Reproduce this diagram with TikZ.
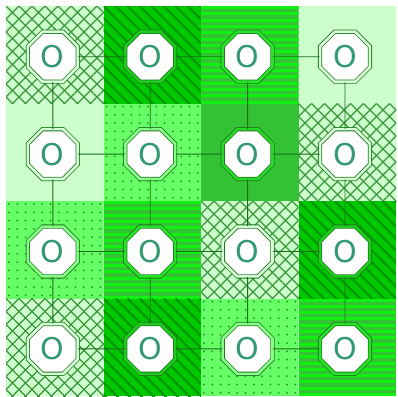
\documentclass[tikz,border=0pt]{standalone}
\usepackage{fontspec}
\setsansfont{DejaVu Sans}
\usetikzlibrary{shapes.geometric}
\definecolor{lightg}{HTML}{CCFFCC}
\definecolor{darkg}{HTML}{00C800}
\definecolor{diagline}{HTML}{009A00}
\definecolor{midg}{HTML}{33C233}
\definecolor{hline}{HTML}{11F011}
\definecolor{brightg}{HTML}{66FF66}
\definecolor{dotg}{HTML}{2A8A2A}
\definecolor{hatchg}{HTML}{3C943C}
\definecolor{edgeg}{HTML}{1B6E1B}
\definecolor{octline}{HTML}{1E7A1E}
\definecolor{textg}{HTML}{339970}
\definecolor{gaplight}{HTML}{D8FFD8}
\definecolor{gapdiag}{HTML}{1ECC1E}
\definecolor{gaphl}{HTML}{28E428}
\definecolor{gapmid}{HTML}{28D828}
\definecolor{gapdot}{HTML}{88FF88}
\tikzset{
  oct/.style={regular polygon, regular polygon sides=8, minimum size=54pt,
    inner sep=0pt, draw=octline, line width=0.8pt, double=#1,
    double distance=2.6pt, fill=white, text=textg,
    font=\sffamily\fontsize{30}{30}\selectfont},
  edge/.style={draw=edgeg, line width=0.9pt}
}
\newcommand\cellplain[3]{\fill[#3] (#1,#2) rectangle ++(97.5,97.5);}
\newcommand\cellhatch[2]{%
  \begin{scope}[shift={(#1,#2)}]
    \clip (0,0) rectangle (97.5,97.5);
    \fill[lightg] (0,0) rectangle (97.5,97.5);
    \foreach \k in {-8,...,16} {
      \draw[hatchg, line width=1.4pt] (\k*13,0) -- ++(110,110);
      \draw[hatchg, line width=1.4pt] (\k*13,0) -- ++(-110,110);
    }
  \end{scope}}
\newcommand\celldiag[2]{%
  \begin{scope}[shift={(#1,#2)}]
    \clip (0,0) rectangle (97.5,97.5);
    \fill[darkg] (0,0) rectangle (97.5,97.5);
    \foreach \k in {-10,...,9} {
      \draw[diagline, line width=2.4pt] (\k*12,0) -- ++(110,110);
    }
  \end{scope}}
\newcommand\cellhl[2]{%
  \begin{scope}[shift={(#1,#2)}]
    \clip (0,0) rectangle (97.5,97.5);
    \fill[midg] (0,0) rectangle (97.5,97.5);
    \foreach \k in {0,...,16} {
      \draw[hline, line width=3pt] (0,\k*6.3+1.5) -- (97.5,\k*6.3+1.5);
    }
  \end{scope}}
\newcommand\celldots[2]{%
  \begin{scope}[shift={(#1,#2)}]
    \clip (0,0) rectangle (97.5,97.5);
    \fill[brightg] (0,0) rectangle (97.5,97.5);
    \foreach \a in {0,...,11} {
      \foreach \b in {0,...,11} {
        \fill[dotg] (\a*8.3+3,\b*8.3+3) circle (1pt);
      }
    }
  \end{scope}}
\begin{document}
\begin{tikzpicture}[x=1pt,y=-1pt]
\useasboundingbox (0,0) rectangle (397,397);
\fill[white] (0,0) rectangle (397,397);
% row 1
\cellhatch{6}{6}
\celldiag{103.5}{6}
\cellhl{201}{6}
\cellplain{298.5}{6}{lightg}
% row 2
\cellplain{6}{103.5}{lightg}
\celldots{103.5}{103.5}
\cellplain{201}{103.5}{midg}
\cellhatch{298.5}{103.5}
% row 3
\celldots{6}{201}
\cellhl{103.5}{201}
\cellhatch{201}{201}
\celldiag{298.5}{201}
% row 4
\cellhatch{6}{298.5}
\celldiag{103.5}{298.5}
\celldots{201}{298.5}
\cellhl{298.5}{298.5}
% nodes
\node[oct=gaplight] (n00) at (52.8,56.7) {O};
\node[oct=gapdiag]  (n10) at (150.2,56.7) {O};
\node[oct=gaphl]    (n20) at (247.6,56.7) {O};
\node[oct=gaplight] (n30) at (345.0,56.7) {O};
\node[oct=gaplight] (n01) at (52.8,154.1) {O};
\node[oct=gapdot]   (n11) at (150.2,154.1) {O};
\node[oct=gapmid]   (n21) at (247.6,154.1) {O};
\node[oct=gaplight] (n31) at (345.0,154.1) {O};
\node[oct=gapdot]   (n02) at (52.8,251.5) {O};
\node[oct=gaphl]    (n12) at (150.2,251.5) {O};
\node[oct=gaplight] (n22) at (247.6,251.5) {O};
\node[oct=gapdiag]  (n32) at (345.0,251.5) {O};
\node[oct=gaplight] (n03) at (52.8,348.9) {O};
\node[oct=gapdiag]  (n13) at (150.2,348.9) {O};
\node[oct=gapdot]   (n23) at (247.6,348.9) {O};
\node[oct=gaphl]    (n33) at (345.0,348.9) {O};
% edges
\foreach \r in {0,1,2,3} {
  \draw[edge] (n0\r) -- (n1\r);
  \draw[edge] (n1\r) -- (n2\r);
  \draw[edge] (n2\r) -- (n3\r);
  \draw[edge] (n\r0) -- (n\r1);
  \draw[edge] (n\r1) -- (n\r2);
  \draw[edge] (n\r2) -- (n\r3);
}
\end{tikzpicture}
\end{document}
